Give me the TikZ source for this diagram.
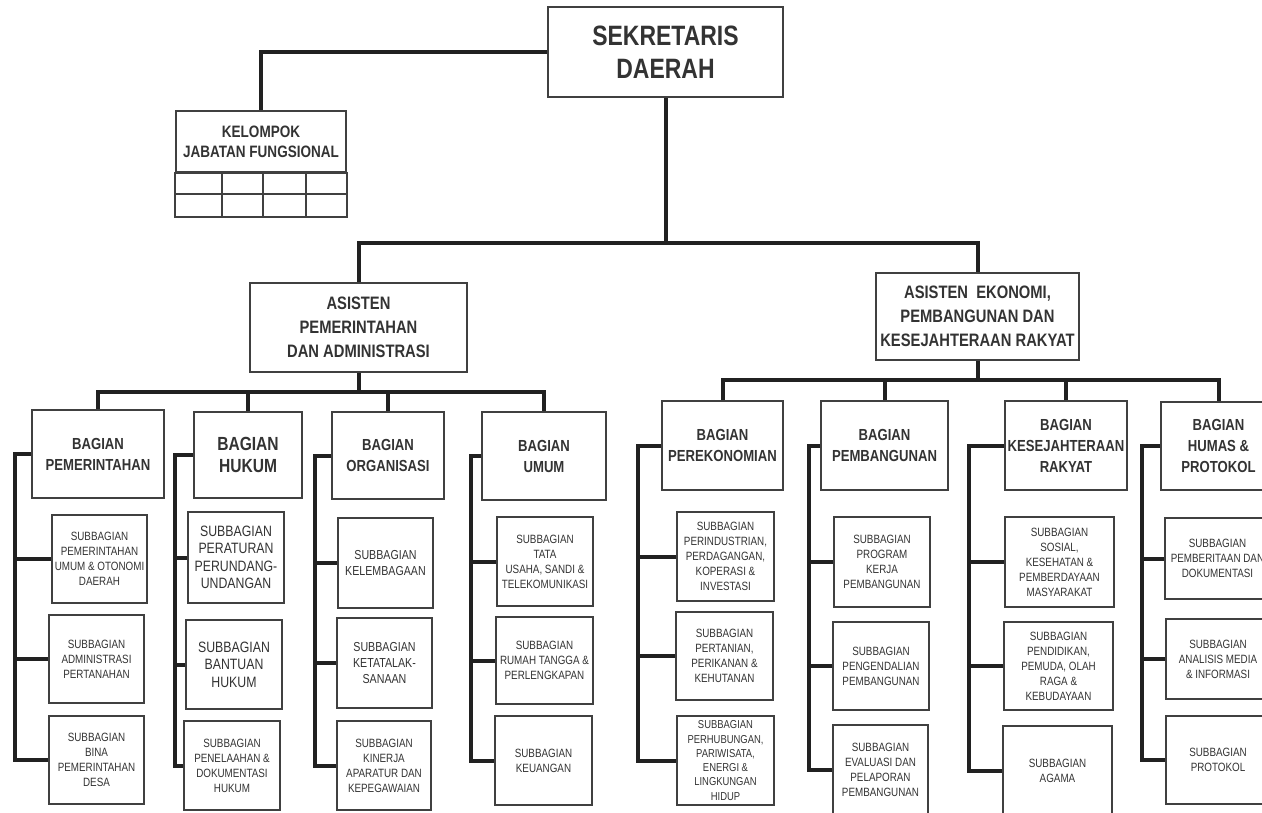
\documentclass[tikz,border=0pt]{standalone}
\usepackage{fontspec}
\setmainfont{Liberation Sans}[FakeStretch=0.82]
\usetikzlibrary{calc}
\definecolor{linec}{gray}{0.13}
\definecolor{boxc}{gray}{0.25}
\definecolor{txt}{gray}{0.2}
\newcommand\orgbox[7]{\node[#1, minimum width=#5pt, minimum height=#6pt] (#2) at (#3,#4) {#7};}
\tikzset{
  box/.style={draw=boxc, line width=1.6pt, fill=white, inner sep=0pt, align=center, text=txt},
  topbox/.style={box, font=\bfseries\fontsize{28}{33}\selectfont},
  asbox/.style={box, font=\bfseries\fontsize{18}{24}\selectfont},
  bag/.style={box, font=\bfseries\fontsize{16}{21}\selectfont},
  bagbig/.style={box, font=\bfseries\fontsize{19}{22}\selectfont},
  sub/.style={box, font=\fontsize{12}{15}\selectfont},
  subs/.style={box, font=\fontsize{11.5}{14.3}\selectfont},
  subm/.style={box, font=\fontsize{13}{16}\selectfont},
  subbig/.style={box, font=\fontsize{15}{17.5}\selectfont},
  kbox/.style={box, font=\bfseries\fontsize{16.5}{20}\selectfont},
  conn/.style={draw=linec, line width=4pt, line join=miter},
  gridl/.style={draw=boxc, line width=1.5pt}
}
\begin{document}
\begin{tikzpicture}[x=1pt,y=-1pt]
\useasboundingbox (0,0) rectangle (1262,813);
\clip (0,0) rectangle (1262,813);
\fill[white] (0,0) rectangle (1262,813);

% top
\orgbox{topbox}{sek}{665.5}{52}{235}{90}{SEKRETARIS\\DAERAH}
\orgbox{kbox}{kjf}{261}{141.5}{170}{61}{KELOMPOK\\JABATAN FUNGSIONAL}
\draw[gridl] (kjf.south west) rectangle ($(kjf.south east)+(0,44)$);
\draw[gridl] ($(kjf.south west)+(0,21)$) -- ($(kjf.south east)+(0,21)$);
\foreach \dx in {47,88,131}{
  \draw[gridl] ($(kjf.south west)+(\dx,0)$) -- ($(kjf.south west)+(\dx,44)$);
}

% assistants
\orgbox{asbox}{ap}{358.5}{327.5}{217}{89}{ASISTEN\\PEMERINTAHAN\\DAN ADMINISTRASI}
\orgbox{asbox}{ae}{977.5}{316.5}{203}{87}{ASISTEN\ \ EKONOMI,\\PEMBANGUNAN DAN\\KESEJAHTERAAN RAKYAT}

% bagian left
\orgbox{bag}{bpem}{98}{454}{132}{88}{BAGIAN\\PEMERINTAHAN}
\orgbox{bagbig}{bhuk}{248}{455}{108}{86}{BAGIAN\\HUKUM}
\orgbox{bag}{borg}{388}{455.5}{112}{87}{BAGIAN\\ORGANISASI}
\orgbox{bag}{bumum}{544}{456}{124}{88}{BAGIAN\\UMUM}

% bagian right
\orgbox{bag}{bpere}{722.5}{445.5}{121}{89}{BAGIAN\\PEREKONOMIAN}
\orgbox{bag}{bpemb}{884.5}{445.5}{127}{89}{BAGIAN\\PEMBANGUNAN}
\orgbox{bag}{bkes}{1066}{445.5}{122}{89}{BAGIAN\\KESEJAHTERAAN\\RAKYAT}
\orgbox{bag}{bhum}{1218.5}{446}{115}{88}{BAGIAN\\HUMAS \&\\PROTOKOL}

% subbagian col 1
\orgbox{sub}{s11}{99.5}{559}{95}{88}{SUBBAGIAN\\PEMERINTAHAN\\UMUM \& OTONOMI\\DAERAH}
\orgbox{sub}{s12}{96.5}{659}{95}{88}{SUBBAGIAN\\ADMINISTRASI\\PERTANAHAN}
\orgbox{sub}{s13}{96.5}{760}{95}{88}{SUBBAGIAN\\BINA\\PEMERINTAHAN\\DESA}
% col 2
\orgbox{subbig}{s21}{236}{557.5}{96}{91}{SUBBAGIAN\\PERATURAN\\PERUNDANG-\\UNDANGAN}
\orgbox{subbig}{s22}{234}{664.5}{96}{89}{SUBBAGIAN\\BANTUAN\\HUKUM}
\orgbox{sub}{s23}{232}{765.5}{96}{89}{SUBBAGIAN\\PENELAAHAN \&\\DOKUMENTASI\\HUKUM}
% col 3
\orgbox{subm}{s31}{385.5}{563}{95}{90}{SUBBAGIAN\\KELEMBAGAAN}
\orgbox{subm}{s32}{384.5}{663}{95}{90}{SUBBAGIAN\\KETATALAK-\\SANAAN}
\orgbox{sub}{s33}{384}{765.5}{94}{89}{SUBBAGIAN\\KINERJA\\APARATUR DAN\\KEPEGAWAIAN}
% col 4
\orgbox{sub}{s41}{545}{561.5}{96}{89}{SUBBAGIAN\\TATA\\USAHA, SANDI \&\\TELEKOMUNIKASI}
\orgbox{sub}{s42}{544.5}{660.5}{97}{87}{SUBBAGIAN\\RUMAH TANGGA \&\\PERLENGKAPAN}
\orgbox{sub}{s43}{543.5}{760.5}{97}{89}{SUBBAGIAN\\KEUANGAN}
% col 5
\orgbox{sub}{s51}{725.5}{556.5}{97}{89}{SUBBAGIAN\\PERINDUSTRIAN,\\PERDAGANGAN,\\KOPERASI \&\\INVESTASI}
\orgbox{sub}{s52}{724.5}{656}{97}{88}{SUBBAGIAN\\PERTANIAN,\\PERIKANAN \&\\KEHUTANAN}
\orgbox{subs}{s53}{725.5}{760.5}{97}{89}{SUBBAGIAN\\PERHUBUNGAN,\\PARIWISATA,\\ENERGI \&\\LINGKUNGAN\\HIDUP}
% col 6
\orgbox{sub}{s61}{882}{562}{96}{90}{SUBBAGIAN\\PROGRAM\\KERJA\\PEMBANGUNAN}
\orgbox{sub}{s62}{881}{666}{96}{88}{SUBBAGIAN\\PENGENDALIAN\\PEMBANGUNAN}
\orgbox{sub}{s63}{880.5}{770}{95}{90}{SUBBAGIAN\\EVALUASI DAN\\PELAPORAN\\PEMBANGUNAN}
% col 7
\orgbox{sub}{s71}{1059.5}{562}{109}{90}{SUBBAGIAN\\SOSIAL,\\KESEHATAN \&\\PEMBERDAYAAN\\MASYARAKAT}
\orgbox{sub}{s72}{1058.5}{666}{109}{88}{SUBBAGIAN\\PENDIDIKAN,\\PEMUDA, OLAH\\RAGA \&\\KEBUDAYAAN}
\orgbox{sub}{s73}{1057.5}{770.5}{109}{89}{SUBBAGIAN\\AGAMA}
% col 8
\orgbox{sub}{s81}{1217.5}{558.5}{105}{81}{SUBBAGIAN\\PEMBERITAAN DAN\\DOKUMENTASI}
\orgbox{sub}{s82}{1218}{659}{104}{80}{SUBBAGIAN\\ANALISIS MEDIA\\\& INFORMASI}
\orgbox{sub}{s83}{1218}{760}{104}{88}{SUBBAGIAN\\PROTOKOL}

% bus coordinates
\coordinate (tbus) at (665.5,243);
\coordinate (lbus) at (358.5,392);
\coordinate (rbus) at (977.5,380);
\coordinate (sp1) at (15,600);
\coordinate (sp2) at (175,600);
\coordinate (sp3) at (315,600);
\coordinate (sp4) at (471,600);
\coordinate (sp5) at (638,600);
\coordinate (sp6) at (809,600);
\coordinate (sp7) at (969,600);
\coordinate (sp8) at (1142,600);

% connectors
\draw[conn] (sek.west) -| (kjf.north);
\draw[conn] (sek.south) -- (tbus);
\draw[conn] (ap.north) |- (tbus) -| (ae.north);

\draw[conn] (ap.south) -- (lbus);
\draw[conn] (bpem.north) |- (lbus) -| (bumum.north);
\draw[conn] (bhuk.north) -- (bhuk.north |- lbus);
\draw[conn] (borg.north) -- (borg.north |- lbus);

\draw[conn] (ae.south) -- (rbus);
\draw[conn] (bpere.north) |- (rbus) -| (bhum.north);
\draw[conn] (bpemb.north) -- (bpemb.north |- rbus);
\draw[conn] (bkes.north) -- (bkes.north |- rbus);

% spines
\draw[conn] (bpem.west) -| (sp1) |- (s13.west);
\draw[conn] (s11.west) -- (s11.west -| sp1);
\draw[conn] (s12.west) -- (s12.west -| sp1);

\draw[conn] (bhuk.west) -| (sp2) |- (s23.west);
\draw[conn] (s21.west) -- (s21.west -| sp2);
\draw[conn] (s22.west) -- (s22.west -| sp2);

\draw[conn] (borg.west) -| (sp3) |- (s33.west);
\draw[conn] (s31.west) -- (s31.west -| sp3);
\draw[conn] (s32.west) -- (s32.west -| sp3);

\draw[conn] (bumum.west) -| (sp4) |- (s43.west);
\draw[conn] (s41.west) -- (s41.west -| sp4);
\draw[conn] (s42.west) -- (s42.west -| sp4);

\draw[conn] (bpere.west) -| (sp5) |- (s53.west);
\draw[conn] (s51.west) -- (s51.west -| sp5);
\draw[conn] (s52.west) -- (s52.west -| sp5);

\draw[conn] (bpemb.west) -| (sp6) |- (s63.west);
\draw[conn] (s61.west) -- (s61.west -| sp6);
\draw[conn] (s62.west) -- (s62.west -| sp6);

\draw[conn] (bkes.west) -| (sp7) |- (s73.west);
\draw[conn] (s71.west) -- (s71.west -| sp7);
\draw[conn] (s72.west) -- (s72.west -| sp7);

\draw[conn] (bhum.west) -| (sp8) |- (s83.west);
\draw[conn] (s81.west) -- (s81.west -| sp8);
\draw[conn] (s82.west) -- (s82.west -| sp8);
\end{tikzpicture}
\end{document}
